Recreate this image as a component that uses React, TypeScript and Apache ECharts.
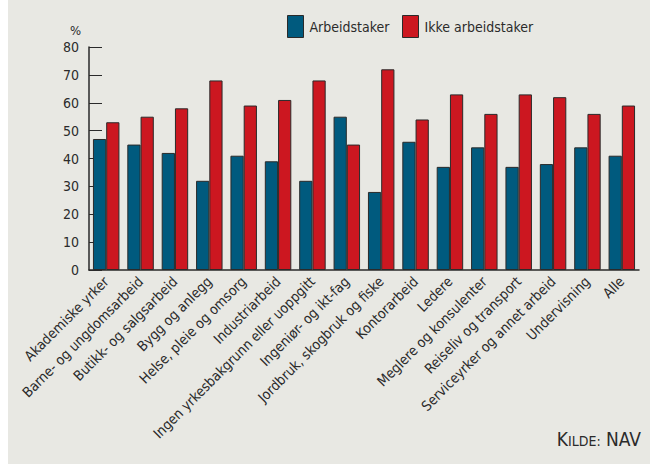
import React, { useEffect, useRef } from "react";
import * as echarts from "echarts";

const categories = [
  "Akademiske yrker",
  "Barne- og ungdomsarbeid",
  "Butikk- og salgsarbeid",
  "Bygg og anlegg",
  "Helse, pleie og omsorg",
  "Industriarbeid",
  "Ingen yrkesbakgrunn eller uoppgitt",
  "Ingeniør- og ikt-fag",
  "Jordbruk, skogbruk og fiske",
  "Kontorarbeid",
  "Ledere",
  "Meglere og konsulenter",
  "Reiseliv og transport",
  "Serviceyrker og annet arbeid",
  "Undervisning",
  "Alle",
];
const arbeidstaker = [47, 45, 42, 32, 41, 39, 32, 55, 28, 46, 37, 44, 37, 38, 44, 41];
const ikkeArbeidstaker = [53, 55, 58, 68, 59, 61, 68, 45, 72, 54, 63, 56, 63, 62, 56, 59];
const seriesNames = ["Arbeidstaker", "Ikke arbeidstaker"];
const yTicks = { min: 0, max: 80, interval: 10 };

const FONT = '"DejaVu Sans Condensed", "Liberation Sans Narrow", "DejaVu Sans", sans-serif';
const TEXT = "#2b2b2b";
const BLUE = "#005a7e";
const RED = "#cc1720";
const BORDER = "#2a2a2a";

export default function App() {
  const ref = useRef<HTMLDivElement>(null);
  useEffect(() => {
    document.body.style.margin = "0";
    document.body.style.background = "#ffffff";
    const chart = echarts.init(ref.current!, null, { renderer: "svg" });
    const legendCommon = {
      top: 15,
      itemWidth: 16,
      itemHeight: 22,
      icon: "rect",
      itemGap: 6,
      textStyle: { fontFamily: FONT, fontSize: 14, color: TEXT, padding: [0, 0, 0, 1] },
      itemStyle: { borderColor: BORDER, borderWidth: 1 },
      padding: 0,
    };
    chart.setOption({
      animation: false,
      backgroundColor: "#e8e8e3",
      textStyle: { fontFamily: FONT },
      legend: [
        { ...legendCommon, left: 279, data: [seriesNames[0]] },
        { ...legendCommon, left: 394, data: [seriesNames[1]] },
      ],
      grid: { left: 81, right: 11, top: 47, bottom: 194, containLabel: false },
      xAxis: {
        type: "category",
        data: categories,
        axisLine: { lineStyle: { color: BORDER, width: 1.5 } },
        axisTick: { inside: true, length: 5, lineStyle: { color: BORDER } },
        axisLabel: {
          interval: 0,
          rotate: 45,
          margin: 9,
          fontFamily: FONT,
          fontSize: 14,
          color: TEXT,
        },
      },
      yAxis: {
        type: "value",
        min: yTicks.min,
        max: yTicks.max,
        interval: yTicks.interval,
        splitLine: { show: false },
        axisLine: { show: true, lineStyle: { color: BORDER, width: 1.5 } },
        axisTick: { show: true, inside: true, length: 13, lineStyle: { color: BORDER } },
        axisLabel: { margin: 10, fontFamily: FONT, fontSize: 14, color: TEXT },
      },
      graphic: [
        {
          type: "text",
          left: 62,
          top: 24,
          style: { text: "%", fontFamily: FONT, fontSize: 13, fill: TEXT },
        },
        {
          type: "text",
          right: 9,
          top: 429,
          style: {
            text: "{a|K}{b|ILDE:}{a| NAV}",
            fontFamily: FONT,
            fill: TEXT,
            rich: {
              a: { fontFamily: FONT, fontSize: 19, fill: TEXT, verticalAlign: "bottom", lineHeight: 22 },
              b: { fontFamily: FONT, fontSize: 14, fill: TEXT, verticalAlign: "bottom", lineHeight: 22 },
            },
          },
        },
      ],
      series: [
        {
          name: seriesNames[0],
          type: "bar",
          data: arbeidstaker,
          barGap: "0%",
          barCategoryGap: "23%",
          itemStyle: { color: BLUE, borderColor: BORDER, borderWidth: 1 },
        },
        {
          name: seriesNames[1],
          type: "bar",
          data: ikkeArbeidstaker,
          barGap: "0%",
          barCategoryGap: "23%",
          itemStyle: { color: RED, borderColor: BORDER, borderWidth: 1 },
        },
      ],
    });
    return () => chart.dispose();
  }, []);
  return (
    <div
      ref={ref}
      style={{ position: "absolute", left: 8, top: 0, width: 642, height: 464 }}
    />
  );
}
